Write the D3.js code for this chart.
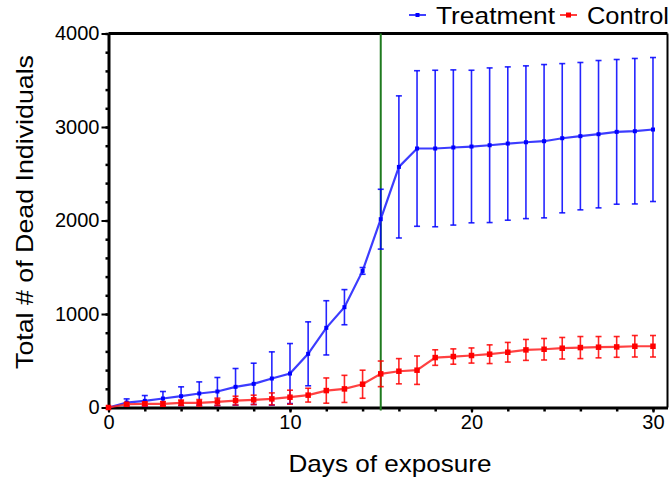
<!DOCTYPE html>
<html>
<head>
<meta charset="utf-8">
<script src="https://cdn.jsdelivr.net/npm/d3@7"></script>
<style>
  body { margin: 0; background: #fff; }
  text { font-family: "Liberation Sans", Arial, sans-serif; }
</style>
</head>
<body>
<svg id="chart" width="670" height="480"></svg>
<script>
// days of exposure
const days = d3.range(0, 31);
// treatment: mean and error
const treatment = [0, 53, 71, 96, 121, 150, 171, 221, 253, 310, 363, 574, 852, 1073, 1461, 2014,
  2573, 2770, 2770, 2781, 2791, 2805, 2823, 2837, 2848, 2880, 2902, 2923, 2948, 2955, 2973];
const treatmentErr = [0, 39, 57, 75, 100, 124, 150, 196, 221, 285, 321, 342, 290, 188, 36, 320,
  760, 832, 837, 830, 816, 827, 820, 817, 820, 798, 788, 788, 774, 778, 770];
// control: mean and error
const control = [0, 35, 39, 38, 50, 50, 60, 74, 82, 92, 110, 132, 181, 199, 249, 360,
  388, 399, 534, 545, 556, 570, 591, 616, 623, 634, 641, 645, 648, 655, 655];
const controlErr = [0, 15, 20, 25, 30, 35, 40, 47, 50, 64, 75, 74, 135, 145, 150, 137,
  135, 152, 83, 82, 81, 100, 105, 112, 115, 115, 118, 114, 111, 115, 115];
const yTicks = [0, 1000, 2000, 3000, 4000];
const xTicks = [0, 10, 20, 30];
const markerDay = 15;

const svg = d3.select('#chart');
const x = d3.scaleLinear().domain([0, 30.8]).range([108.5, 667.5]);
const y = d3.scaleLinear().domain([0, 4000]).range([407.5, 33.5]);

// frame top/right
svg.append('line').attr('x1', x(0)).attr('x2', x(30.8)).attr('y1', y(4000)).attr('y2', y(4000))
  .attr('stroke', '#000').attr('stroke-width', 3);
svg.append('line').attr('x1', x(30.8)).attr('x2', x(30.8)).attr('y1', y(4000)).attr('y2', y(0))
  .attr('stroke', '#000').attr('stroke-width', 2);

// minor ticks
const yAxisMinor = d3.axisLeft(y).tickValues(d3.range(0, 4001, 200)).tickSize(3).tickFormat('').tickSizeOuter(0);
svg.append('g').attr('transform', `translate(${x(0)},0)`).call(yAxisMinor)
  .call(g => g.select('.domain').remove())
  .selectAll('line').attr('stroke-width', 2.5);
const xAxisMinor = d3.axisBottom(x).tickValues(d3.range(0, 31, 2)).tickSize(4).tickFormat('').tickSizeOuter(0);
svg.append('g').attr('transform', `translate(0,${y(0)})`).call(xAxisMinor)
  .call(g => g.select('.domain').remove())
  .selectAll('line').attr('stroke-width', 2.5);

// major axes
const yAxis = d3.axisLeft(y).tickValues(yTicks).tickSize(7).tickSizeOuter(0).tickPadding(2).tickFormat(d3.format('d'));
const yg = svg.append('g').attr('transform', `translate(${x(0)},0)`).call(yAxis);
yg.select('.domain').attr('stroke-width', 3);
yg.selectAll('.tick line').attr('stroke-width', 2);
yg.selectAll('.tick text').attr('font-size', 20).attr('fill', '#000');

const xAxis = d3.axisBottom(x).tickValues(xTicks).tickSize(5).tickSizeOuter(0).tickPadding(2).tickFormat(d3.format('d'));
const xg = svg.append('g').attr('transform', `translate(0,${y(0)})`).call(xAxis);
xg.select('.domain').attr('stroke-width', 3);
xg.selectAll('.tick line').attr('stroke-width', 2);
xg.selectAll('.tick text').attr('font-size', 20).attr('fill', '#000');

// green vertical marker
svg.append('line').attr('x1', x(markerDay)).attr('x2', x(markerDay))
  .attr('y1', y(4000)).attr('y2', y(0) + 3)
  .attr('stroke', '#1f7a1f').attr('stroke-width', 2);

function drawSeries(vals, errs, color, lineColor, size) {
  const g = svg.append('g');
  // error bars
  days.forEach((d, i) => {
    if (errs[i] <= 0) return;
    const cx = x(d), y1 = y(vals[i] + errs[i]), y2 = y(Math.max(0, vals[i] - errs[i]));
    g.append('line').attr('x1', cx).attr('x2', cx).attr('y1', y1).attr('y2', y2)
      .attr('stroke', color).attr('stroke-width', 1.6).attr('opacity', 0.85);
    [y1, y2].forEach(yy => g.append('line').attr('x1', cx - 3).attr('x2', cx + 3)
      .attr('y1', yy).attr('y2', yy).attr('stroke', color).attr('stroke-width', 1.6).attr('opacity', 0.85));
  });
  const line = d3.line().x((d, i) => x(days[i])).y(d => y(d));
  g.append('path').datum(vals).attr('d', line).attr('fill', 'none')
    .attr('stroke', lineColor).attr('stroke-width', 2.2).attr('opacity', 0.85);
  g.selectAll('rect').data(vals).join('rect')
    .attr('x', (d, i) => x(days[i]) - size / 2).attr('y', d => y(d) - size / 2)
    .attr('width', size).attr('height', size).attr('fill', color);
}
drawSeries(treatment, treatmentErr, '#0000ff', '#1a1aff', 4);
drawSeries(control, controlErr, '#ff0000', '#ff2020', 5.5);

// legend
const legend = [
  { name: 'Treatment', color: '#0000ff', x: 409, size: 4, len: 119 },
  { name: 'Control', color: '#ff0000', x: 560, size: 5, len: 82 }
];
legend.forEach(l => {
  svg.append('line').attr('x1', l.x).attr('x2', l.x + 17).attr('y1', 15).attr('y2', 15)
    .attr('stroke', l.color).attr('stroke-width', 1.5);
  svg.append('rect').attr('x', l.x + 8.5 - l.size / 2).attr('y', 15 - l.size / 2)
    .attr('width', l.size).attr('height', l.size).attr('fill', l.color);
  svg.append('text').attr('x', l.x + 27).attr('y', 24).attr('font-size', 24)
    .attr('textLength', l.len).attr('lengthAdjust', 'spacingAndGlyphs').text(l.name);
});

// axis titles
svg.append('text').attr('x', 390).attr('y', 472).attr('text-anchor', 'middle')
  .attr('font-size', 24).attr('textLength', 203).attr('lengthAdjust', 'spacingAndGlyphs')
  .text('Days of exposure');
svg.append('text').attr('transform', 'translate(33,212) rotate(-90)').attr('text-anchor', 'middle')
  .attr('font-size', 24).attr('textLength', 314).attr('lengthAdjust', 'spacingAndGlyphs')
  .text('Total # of Dead Individuals');
</script>
</body>
</html>
